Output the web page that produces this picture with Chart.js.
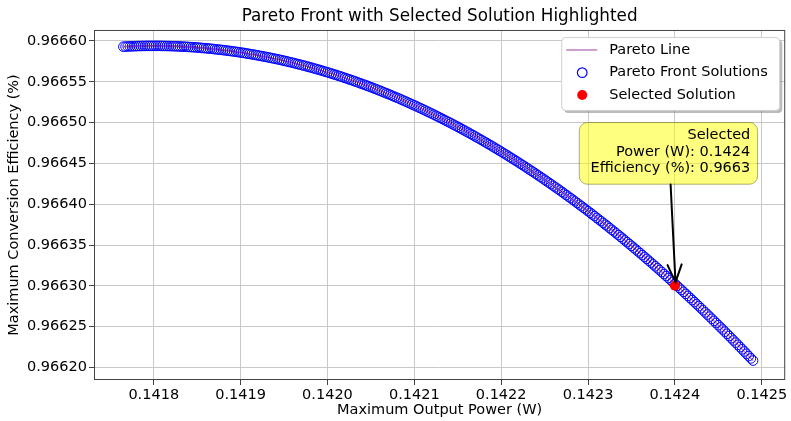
<!DOCTYPE html>
<html>
<head>
<meta charset="utf-8">
<script src="https://cdn.jsdelivr.net/npm/chart.js@4.4.1/dist/chart.umd.min.js"></script>
<style>
  body { margin: 0; background: #fff; }
  canvas { display: block; }
</style>
</head>
<body>
<canvas id="paretoChart" width="791" height="421"></canvas>
<script>
// values
var powerW = [
  0.1417650, 0.1417675, 0.1417700, 0.1417725, 0.1417750, 0.1417775, 0.1417800, 0.1417825, 0.1417850, 0.1417875,
  0.1417900, 0.1417925, 0.1417950, 0.1417975, 0.1418000, 0.1418025, 0.1418050, 0.1418075, 0.1418100, 0.1418125,
  0.1418150, 0.1418175, 0.1418200, 0.1418225, 0.1418250, 0.1418275, 0.1418300, 0.1418325, 0.1418350, 0.1418375,
  0.1418400, 0.1418425, 0.1418450, 0.1418475, 0.1418500, 0.1418525, 0.1418550, 0.1418575, 0.1418600, 0.1418625,
  0.1418650, 0.1418675, 0.1418700, 0.1418725, 0.1418750, 0.1418775, 0.1418800, 0.1418825, 0.1418850, 0.1418875,
  0.1418900, 0.1418925, 0.1418950, 0.1418975, 0.1419000, 0.1419025, 0.1419050, 0.1419075, 0.1419100, 0.1419125,
  0.1419150, 0.1419175, 0.1419200, 0.1419225, 0.1419250, 0.1419275, 0.1419300, 0.1419325, 0.1419350, 0.1419375,
  0.1419400, 0.1419425, 0.1419450, 0.1419475, 0.1419500, 0.1419525, 0.1419550, 0.1419575, 0.1419600, 0.1419625,
  0.1419650, 0.1419675, 0.1419700, 0.1419725, 0.1419750, 0.1419775, 0.1419800, 0.1419825, 0.1419850, 0.1419875,
  0.1419900, 0.1419925, 0.1419950, 0.1419975, 0.1420000, 0.1420025, 0.1420050, 0.1420075, 0.1420100, 0.1420125,
  0.1420150, 0.1420175, 0.1420200, 0.1420225, 0.1420250, 0.1420275, 0.1420300, 0.1420325, 0.1420350, 0.1420375,
  0.1420400, 0.1420425, 0.1420450, 0.1420475, 0.1420500, 0.1420525, 0.1420550, 0.1420575, 0.1420600, 0.1420625,
  0.1420650, 0.1420675, 0.1420700, 0.1420725, 0.1420750, 0.1420775, 0.1420800, 0.1420825, 0.1420850, 0.1420875,
  0.1420900, 0.1420925, 0.1420950, 0.1420975, 0.1421000, 0.1421025, 0.1421050, 0.1421075, 0.1421100, 0.1421125,
  0.1421150, 0.1421175, 0.1421200, 0.1421225, 0.1421250, 0.1421275, 0.1421300, 0.1421325, 0.1421350, 0.1421375,
  0.1421400, 0.1421425, 0.1421450, 0.1421475, 0.1421500, 0.1421525, 0.1421550, 0.1421575, 0.1421600, 0.1421625,
  0.1421650, 0.1421675, 0.1421700, 0.1421725, 0.1421750, 0.1421775, 0.1421800, 0.1421825, 0.1421850, 0.1421875,
  0.1421900, 0.1421925, 0.1421950, 0.1421975, 0.1422000, 0.1422025, 0.1422050, 0.1422075, 0.1422100, 0.1422125,
  0.1422150, 0.1422175, 0.1422200, 0.1422225, 0.1422250, 0.1422275, 0.1422300, 0.1422325, 0.1422350, 0.1422375,
  0.1422400, 0.1422425, 0.1422450, 0.1422475, 0.1422500, 0.1422525, 0.1422550, 0.1422575, 0.1422600, 0.1422625,
  0.1422650, 0.1422675, 0.1422700, 0.1422725, 0.1422750, 0.1422775, 0.1422800, 0.1422825, 0.1422850, 0.1422875,
  0.1422900, 0.1422925, 0.1422950, 0.1422975, 0.1423000, 0.1423025, 0.1423050, 0.1423075, 0.1423100, 0.1423125,
  0.1423150, 0.1423175, 0.1423200, 0.1423225, 0.1423250, 0.1423275, 0.1423300, 0.1423325, 0.1423350, 0.1423375,
  0.1423400, 0.1423425, 0.1423450, 0.1423475, 0.1423500, 0.1423525, 0.1423550, 0.1423575, 0.1423600, 0.1423625,
  0.1423650, 0.1423675, 0.1423700, 0.1423725, 0.1423750, 0.1423775, 0.1423800, 0.1423825, 0.1423850, 0.1423875,
  0.1423900, 0.1423925, 0.1423950, 0.1423975, 0.1424000, 0.1424025, 0.1424050, 0.1424075, 0.1424100, 0.1424125,
  0.1424150, 0.1424175, 0.1424200, 0.1424225, 0.1424250, 0.1424275, 0.1424300, 0.1424325, 0.1424350, 0.1424375,
  0.1424400, 0.1424425, 0.1424450, 0.1424475, 0.1424500, 0.1424525, 0.1424550, 0.1424575, 0.1424600, 0.1424625,
  0.1424650, 0.1424675, 0.1424700, 0.1424725, 0.1424750, 0.1424775, 0.1424800, 0.1424825, 0.1424850, 0.1424875,
  0.1424900
];
var efficiency = [
  0.9665930, 0.9665931, 0.9665933, 0.9665934, 0.9665935, 0.9665936, 0.9665937, 0.9665938, 0.9665938, 0.9665939,
  0.9665939, 0.9665940, 0.9665940, 0.9665940, 0.9665940, 0.9665940, 0.9665940, 0.9665940, 0.9665939, 0.9665939,
  0.9665938, 0.9665938, 0.9665937, 0.9665936, 0.9665935, 0.9665934, 0.9665933, 0.9665931, 0.9665930, 0.9665929,
  0.9665927, 0.9665925, 0.9665924, 0.9665922, 0.9665920, 0.9665918, 0.9665915, 0.9665913, 0.9665911, 0.9665908,
  0.9665906, 0.9665903, 0.9665900, 0.9665897, 0.9665894, 0.9665891, 0.9665888, 0.9665885, 0.9665881, 0.9665878,
  0.9665874, 0.9665871, 0.9665867, 0.9665863, 0.9665859, 0.9665855, 0.9665851, 0.9665846, 0.9665842, 0.9665837,
  0.9665833, 0.9665828, 0.9665823, 0.9665818, 0.9665813, 0.9665808, 0.9665803, 0.9665798, 0.9665792, 0.9665787,
  0.9665781, 0.9665776, 0.9665770, 0.9665764, 0.9665758, 0.9665752, 0.9665745, 0.9665739, 0.9665733, 0.9665726,
  0.9665719, 0.9665713, 0.9665706, 0.9665699, 0.9665692, 0.9665685, 0.9665678, 0.9665670, 0.9665663, 0.9665655,
  0.9665648, 0.9665640, 0.9665632, 0.9665624, 0.9665616, 0.9665608, 0.9665600, 0.9665591, 0.9665583, 0.9665574,
  0.9665566, 0.9665557, 0.9665548, 0.9665539, 0.9665530, 0.9665521, 0.9665512, 0.9665502, 0.9665493, 0.9665483,
  0.9665473, 0.9665464, 0.9665454, 0.9665444, 0.9665434, 0.9665424, 0.9665413, 0.9665403, 0.9665392, 0.9665382,
  0.9665371, 0.9665360, 0.9665350, 0.9665339, 0.9665327, 0.9665316, 0.9665305, 0.9665294, 0.9665282, 0.9665270,
  0.9665259, 0.9665247, 0.9665235, 0.9665223, 0.9665211, 0.9665199, 0.9665186, 0.9665174, 0.9665162, 0.9665149,
  0.9665136, 0.9665123, 0.9665111, 0.9665098, 0.9665084, 0.9665071, 0.9665058, 0.9665044, 0.9665031, 0.9665017,
  0.9665004, 0.9664990, 0.9664976, 0.9664962, 0.9664948, 0.9664934, 0.9664919, 0.9664905, 0.9664890, 0.9664876,
  0.9664861, 0.9664846, 0.9664831, 0.9664816, 0.9664801, 0.9664786, 0.9664770, 0.9664755, 0.9664739, 0.9664724,
  0.9664708, 0.9664692, 0.9664676, 0.9664660, 0.9664644, 0.9664628, 0.9664611, 0.9664595, 0.9664578, 0.9664562,
  0.9664545, 0.9664528, 0.9664511, 0.9664494, 0.9664477, 0.9664460, 0.9664442, 0.9664425, 0.9664407, 0.9664390,
  0.9664372, 0.9664354, 0.9664336, 0.9664318, 0.9664300, 0.9664281, 0.9664263, 0.9664245, 0.9664226, 0.9664207,
  0.9664189, 0.9664170, 0.9664151, 0.9664132, 0.9664112, 0.9664093, 0.9664074, 0.9664054, 0.9664035, 0.9664015,
  0.9663995, 0.9663975, 0.9663955, 0.9663935, 0.9663915, 0.9663895, 0.9663874, 0.9663854, 0.9663833, 0.9663812,
  0.9663792, 0.9663771, 0.9663750, 0.9663729, 0.9663707, 0.9663686, 0.9663665, 0.9663643, 0.9663622, 0.9663600,
  0.9663578, 0.9663556, 0.9663534, 0.9663512, 0.9663490, 0.9663467, 0.9663445, 0.9663422, 0.9663400, 0.9663377,
  0.9663354, 0.9663331, 0.9663308, 0.9663285, 0.9663262, 0.9663239, 0.9663215, 0.9663192, 0.9663168, 0.9663144,
  0.9663120, 0.9663096, 0.9663072, 0.9663048, 0.9663024, 0.9663000, 0.9662975, 0.9662951, 0.9662926, 0.9662901,
  0.9662876, 0.9662851, 0.9662826, 0.9662801, 0.9662776, 0.9662751, 0.9662725, 0.9662700, 0.9662674, 0.9662648,
  0.9662622, 0.9662596, 0.9662570, 0.9662544, 0.9662518, 0.9662491, 0.9662465, 0.9662438, 0.9662412, 0.9662385,
  0.9662358, 0.9662331, 0.9662304, 0.9662277, 0.9662249, 0.9662222, 0.9662195, 0.9662167, 0.9662139, 0.9662111,
  0.9662084
];
var selectedPower = 0.1424;
var selectedEff = 0.96630;

var xTicks = [0.1418, 0.1419, 0.1420, 0.1421, 0.1422, 0.1423, 0.1424, 0.1425];
var yTicks = [0.96620, 0.96625, 0.96630, 0.96635, 0.96640, 0.96645, 0.96650, 0.96655, 0.96660];

var FONT = 'DejaVu Sans';

var frontPoints = powerW.map(function (p, i) { return { x: p, y: efficiency[i] }; });

// spines, legend box and the yellow annotation, drawn on top
var overlay = {
  id: 'overlay',
  afterDraw: function (chart) {
    var ctx = chart.ctx;
    var a = chart.chartArea;
    ctx.save();

    // frame
    ctx.strokeStyle = '#444';
    ctx.lineWidth = 1;
    ctx.strokeRect(a.left + 0.5, a.top + 0.5, a.right - a.left - 1, a.bottom - a.top - 1);

    // legend
    var lx = a.right - 224, ly = a.top + 7, lw = 218, lh = 73;
    ctx.fillStyle = 'rgba(120,120,120,0.5)';
    ctx.beginPath();
    ctx.roundRect(lx + 3, ly + 3, lw, lh, 4);
    ctx.fill();
    ctx.fillStyle = '#fff';
    ctx.strokeStyle = '#d0d0d0';
    ctx.beginPath();
    ctx.roundRect(lx + 0.5, ly + 0.5, lw, lh, 4);
    ctx.fill();
    ctx.stroke();

    ctx.strokeStyle = 'rgba(128,0,128,0.5)';
    ctx.lineWidth = 1.5;
    ctx.beginPath();
    ctx.moveTo(lx + 5, ly + 13);
    ctx.lineTo(lx + 36, ly + 13);
    ctx.stroke();

    ctx.strokeStyle = '#0000ff';
    ctx.lineWidth = 1.2;
    ctx.beginPath();
    ctx.arc(lx + 21, ly + 35.7, 4.8, 0, Math.PI * 2);
    ctx.stroke();

    ctx.fillStyle = '#ff0000';
    ctx.beginPath();
    ctx.arc(lx + 21, ly + 58, 5, 0, Math.PI * 2);
    ctx.fill();

    ctx.fillStyle = '#000';
    ctx.font = '14.5px "' + FONT + '"';
    ctx.textAlign = 'left';
    ctx.textBaseline = 'middle';
    ctx.fillText('Pareto Line', lx + 48, ly + 13);
    ctx.fillText('Pareto Front Solutions', lx + 48, ly + 35.7);
    ctx.fillText('Selected Solution', lx + 48, ly + 58);

    // annotation for the selected solution
    var px = chart.scales.x.getPixelForValue(selectedPower);
    var py = chart.scales.y.getPixelForValue(selectedEff);

    ctx.fillStyle = 'rgba(255,255,0,0.5)';
    ctx.strokeStyle = 'rgba(80,80,0,0.45)';
    ctx.lineWidth = 1;
    ctx.beginPath();
    ctx.roundRect(px - 95.6, py - 163.3, 178.3, 61.7, 8);
    ctx.fill();
    ctx.stroke();

    ctx.fillStyle = '#000';
    ctx.textAlign = 'right';
    ctx.fillText('Selected', px + 75.4, py - 150.3);
    ctx.fillText('Power (W): ' + selectedPower.toFixed(4), px + 75.4, py - 133.3);
    ctx.fillText('Efficiency (%): ' + selectedEff.toFixed(4), px + 75.4, py - 117.3);

    var sx = px - 4.3, sy = py - 101.3, tx = px + 0.6, ty = py - 3.5;
    var ang = Math.atan2(ty - sy, tx - sx);
    ctx.strokeStyle = '#000';
    ctx.lineWidth = 2;
    ctx.lineCap = 'round';
    ctx.beginPath();
    ctx.moveTo(sx, sy);
    ctx.lineTo(tx, ty);
    ctx.moveTo(tx - 19 * Math.cos(ang - 0.38), ty - 19 * Math.sin(ang - 0.38));
    ctx.lineTo(tx, ty);
    ctx.lineTo(tx - 19 * Math.cos(ang + 0.38), ty - 19 * Math.sin(ang + 0.38));
    ctx.stroke();

    ctx.restore();
  }
};

new Chart(document.getElementById('paretoChart').getContext('2d'), {
  type: 'scatter',
  data: {
    datasets: [{
      label: 'Selected Solution',
      data: [{ x: selectedPower, y: selectedEff }],
      pointRadius: 5,
      pointBackgroundColor: '#ff0000',
      pointBorderColor: '#ff0000',
      pointBorderWidth: 0,
      order: 0
    }, {
      label: 'Pareto Line',
      data: frontPoints,
      showLine: true,
      pointRadius: 0,
      borderColor: 'rgba(128,0,128,0.5)',
      borderWidth: 1.5,
      order: 1
    }, {
      label: 'Pareto Front Solutions',
      data: frontPoints,
      pointRadius: 4.8,
      pointBackgroundColor: 'rgba(0,0,0,0)',
      pointBorderColor: '#0000ff',
      pointBorderWidth: 1,
      order: 2
    }]
  },
  options: {
    responsive: false,
    animation: false,
    layout: { padding: { left: 0, right: 3, top: 0, bottom: 0 } },
    plugins: {
      legend: { display: false },
      tooltip: { enabled: false },
      title: {
        display: true,
        fullSize: false,
        text: 'Pareto Front with Selected Solution Highlighted',
        color: '#000',
        font: { family: FONT, size: 16.8, weight: 'normal' },
        padding: { top: 6.8, bottom: 3 }
      }
    },
    scales: {
      x: {
        type: 'linear',
        min: 0.1417312,
        max: 0.142527,
        afterBuildTicks: function (scale) {
          scale.ticks = xTicks.map(function (v) { return { value: v }; });
        },
        afterFit: function (scale) { scale.height = 41; },
        grid: { color: '#c8c8c8', tickColor: '#444', tickLength: 5 },
        border: { display: false },
        ticks: {
          color: '#000',
          padding: 2,
          maxRotation: 0,
          font: { family: FONT, size: 14.5 },
          callback: function (v) { return v.toFixed(4); }
        },
        title: {
          display: true,
          text: 'Maximum Output Power (W)',
          color: '#000',
          font: { family: FONT, size: 14.5 },
          padding: { top: 0, bottom: 2 }
        }
      },
      y: {
        type: 'linear',
        min: 0.9661846,
        max: 0.9666135,
        afterBuildTicks: function (scale) {
          scale.ticks = yTicks.map(function (v) { return { value: v }; });
        },
        afterFit: function (scale) { scale.width = 94; },
        grid: { color: '#c8c8c8', tickColor: '#444', tickLength: 5 },
        border: { display: false },
        ticks: {
          color: '#000',
          padding: 2,
          font: { family: FONT, size: 14.5 },
          callback: function (v) { return v.toFixed(5); }
        },
        title: {
          display: true,
          text: 'Maximum Conversion Efficiency (%)',
          color: '#000',
          font: { family: FONT, size: 14.5 },
          padding: { top: 6, bottom: 0 }
        }
      }
    }
  },
  plugins: [overlay]
});
</script>
</body>
</html>
